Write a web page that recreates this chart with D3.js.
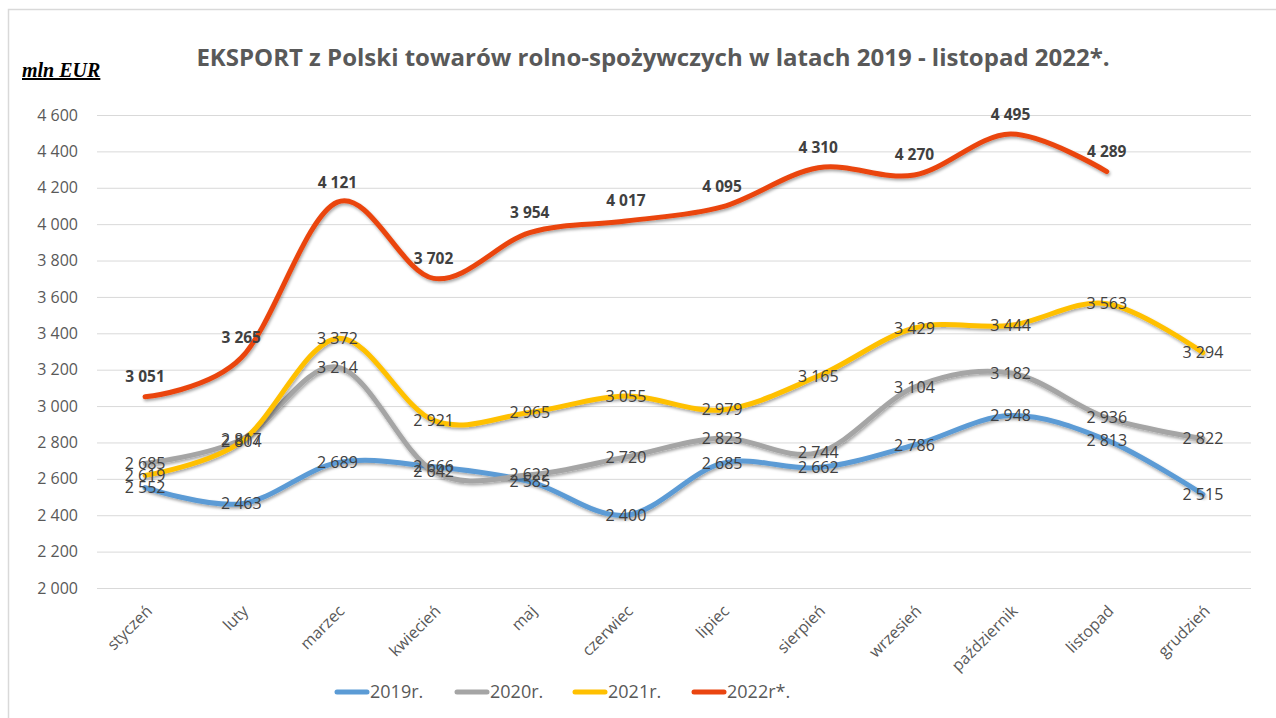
<!DOCTYPE html>
<html lang="pl">
<head>
<meta charset="utf-8"/>
<title>Eksport rolno-spożywczy</title>
<script src="https://d3js.org/d3.v7.min.js"></script>
<style>
  body { margin: 0; background: #fff; }
  text { font-family: "Open Sans", sans-serif; }
  .grid line { stroke: #d9d9d9; stroke-width: 1px; }
  .grid .domain { display: none; }
  .ylab text, .xlab text { fill: #595959; }
</style>
</head>
<body>
<svg id="chart" width="1276" height="718"></svg>
<script>
// dane (mln EUR)
var months = ["styczeń", "luty", "marzec", "kwiecień", "maj", "czerwiec", "lipiec",
  "sierpień", "wrzesień", "październik", "listopad", "grudzień"];
var y2019 = [2552, 2463, 2689, 2666, 2585, 2400, 2685, 2662, 2786, 2948, 2813, 2515];
var y2020 = [2685, 2817, 3214, 2642, 2622, 2720, 2823, 2744, 3104, 3182, 2936, 2822];
var y2021 = [2619, 2804, 3372, 2921, 2965, 3055, 2979, 3165, 3429, 3444, 3563, 3294];
var y2022 = [3051, 3265, 4121, 3702, 3954, 4017, 4095, 4310, 4270, 4495, 4289];
var yTicks = [2000, 2200, 2400, 2600, 2800, 3000, 3200, 3400, 3600, 3800, 4000, 4200, 4400, 4600];
var seriesNames = ["2019r.", "2020r.", "2021r.", "2022r*."];
var seriesColors = ["#5b9bd5", "#a5a5a5", "#ffc000", "#ea4510"];

var series = [y2019, y2020, y2021, y2022].map(function(v, i) {
  return { name: seriesNames[i], color: seriesColors[i], values: v, bold: i === 3 };
});

var svg = d3.select("#chart");
var fmt = function(d) { return d3.format(",")(d).replace(/,/g, " "); };

// frame
svg.append("path")
  .attr("d", "M8.5,718 V9.5 H1276")
  .attr("fill", "none")
  .attr("stroke", "#d9d9d9")
  .attr("stroke-width", 1.5);

var defs = svg.append("defs");
var f = defs.append("filter").attr("id", "shadow")
  .attr("x", "-5%").attr("y", "-20%").attr("width", "110%").attr("height", "140%");
f.append("feDropShadow").attr("dx", 1).attr("dy", 2).attr("stdDeviation", 1.5)
  .attr("flood-color", "#000").attr("flood-opacity", 0.35);

var plotL = 97, plotR = 1251, plotT = 115, plotB = 588;

var x = d3.scaleBand().domain(months).range([plotL, plotR]);
var y = d3.scaleLinear().domain([2000, 4600]).range([plotB, plotT]);
var cx = function(i) { return x(months[i]) + x.bandwidth() / 2; };

// gridlines
svg.append("g")
  .attr("class", "grid")
  .attr("transform", "translate(" + plotL + ",0)")
  .call(d3.axisLeft(y).tickValues(yTicks).tickSize(-(plotR - plotL)).tickFormat(""));

// y labels
svg.append("g").attr("class", "ylab")
  .selectAll("text")
  .data(yTicks)
  .enter().append("text")
    .attr("x", 78)
    .attr("y", function(d) { return y(d); })
    .attr("dy", "0.35em")
    .attr("text-anchor", "end")
    .attr("font-size", 16)
    .text(fmt);

// x labels
svg.append("g").attr("class", "xlab")
  .selectAll("text")
  .data(months)
  .enter().append("text")
    .attr("transform", function(d) {
      return "translate(" + (x(d) + x.bandwidth() / 2 + 8) + ",612) rotate(-45)";
    })
    .attr("text-anchor", "end")
    .attr("font-size", 16)
    .text(function(d) { return d; });

// lines
var line = d3.line()
  .x(function(d, i) { return cx(i); })
  .y(function(d) { return y(d); })
  .curve(d3.curveCardinal.tension(0));

svg.append("g")
  .selectAll("path")
  .data(series)
  .enter().append("path")
    .attr("d", function(s) { return line(s.values); })
    .attr("fill", "none")
    .attr("stroke", function(s) { return s.color; })
    .attr("stroke-width", 5)
    .attr("stroke-linecap", "round")
    .attr("filter", "url(#shadow)");

// value labels
series.forEach(function(s) {
  svg.append("g")
    .selectAll("text")
    .data(s.values)
    .enter().append("text")
      .attr("x", function(d, i) { return cx(i); })
      .attr("y", function(d) { return s.bold ? y(d) - 20 : y(d); })
      .attr("dy", "0.35em")
      .attr("text-anchor", "middle")
      .attr("font-size", s.bold ? 15.5 : 16)
      .attr("font-weight", s.bold ? "bold" : "normal")
      .attr("fill", "#404040")
      .text(fmt);
});

// title
svg.append("text")
  .attr("x", 653)
  .attr("y", 66)
  .attr("text-anchor", "middle")
  .attr("font-size", 24)
  .attr("font-weight", "bold")
  .attr("fill", "#595959")
  .text("EKSPORT z Polski towarów rolno-spożywczych w latach 2019 - listopad 2022*.");

svg.append("text")
  .attr("x", 22)
  .attr("y", 77)
  .style("font-family", "'Liberation Serif', serif")
  .attr("font-size", 20)
  .attr("font-weight", "bold")
  .attr("font-style", "italic")
  .attr("text-decoration", "underline")
  .attr("fill", "#000")
  .text("mln EUR");

// legend
var legendX = [335, 455, 573, 692];
var lg = svg.append("g")
  .selectAll("g")
  .data(series)
  .enter().append("g")
    .attr("transform", function(d, i) { return "translate(" + legendX[i] + ",692)"; });
lg.append("line")
  .attr("x1", 2).attr("x2", 32)
  .attr("stroke", function(d) { return d.color; })
  .attr("stroke-width", 5)
  .attr("stroke-linecap", "round");
lg.append("text")
  .attr("x", 35)
  .attr("dy", "0.35em")
  .attr("font-size", 18)
  .attr("fill", "#595959")
  .text(function(d) { return d.name; });
</script>
</body>
</html>
